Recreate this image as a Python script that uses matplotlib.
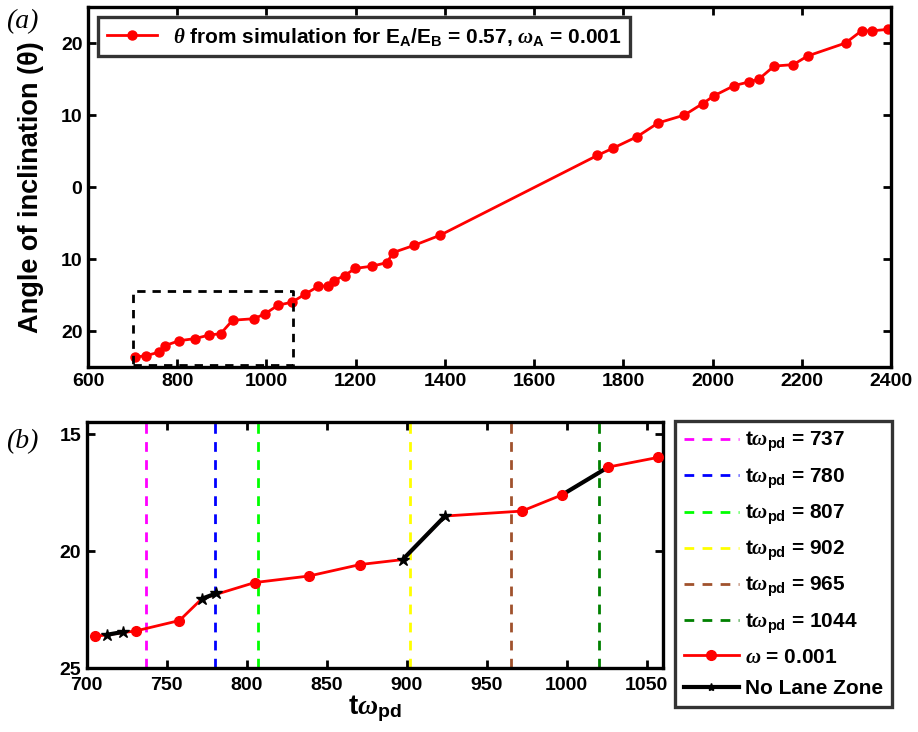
import numpy as np
import matplotlib
matplotlib.use("Agg")
import matplotlib.pyplot as plt
from matplotlib.ticker import FuncFormatter
from matplotlib.lines import Line2D

plt.rcParams['font.family'] = ['Liberation Sans', 'DejaVu Sans']
plt.rcParams['font.weight'] = 'bold'
plt.rcParams['mathtext.fontset'] = 'custom'
plt.rcParams['mathtext.rm'] = 'Liberation Sans:bold'
plt.rcParams['mathtext.bf'] = 'Liberation Sans:bold'
plt.rcParams['mathtext.it'] = 'Liberation Serif:italic'

# angle of inclination vs time
t = [705, 731, 758, 772, 805, 839, 871, 897.5, 924, 972, 997, 1026, 1057,
     1086, 1116, 1139, 1152, 1175, 1199, 1236, 1270, 1284, 1331, 1389,
     1742, 1777, 1831, 1878, 1937, 1978, 2004, 2049, 2082, 2104, 2138, 2181, 2213,
     2298, 2334, 2358, 2394]
theta = [-23.64, -23.4, -22.96, -22.03, -21.34, -21.06, -20.57, -20.36, -18.5,
         -18.29, -17.6, -16.41, -16.0, -14.9, -13.8, -13.7, -13.0, -12.3, -11.3,
         -11.0, -10.5, -9.1, -8.1, -6.7, 4.4, 5.4, 7.0, 8.9, 10.0, 11.6, 12.7,
         14.1, 14.6, 15.0, 16.8, 17.0, 18.2, 20.0, 21.7, 21.7, 21.9]

# no lane zone segments
nlz_t = [[712.5, 722.5], [772, 781], [897.5, 924], [997, 1026]]
nlz_theta = [[-23.57, -23.45], [-22.03, -21.8], [-20.36, -18.5], [-17.6, -16.41]]

# vertical marker lines in panel (b)
vline_x = [737, 780, 807, 902, 965, 1020]
vline_lbl = ['737', '780', '807', '902', '965', '1044']
vline_col = ['#ff00ff', '#0000ff', '#00ff00', '#ffff00', '#a0522d', '#008000']

# zoom box
box_x = [700, 1060]
box_y = [-24.7, -14.5]

absfmt = FuncFormatter(lambda v, p: '%d' % abs(v))


def style(ax):
    for s in ax.spines.values():
        s.set_linewidth(2.4)
    ax.tick_params(direction='in', length=6, width=2, labelsize=14,
                   top=True, right=True, pad=4)


fig = plt.figure(figsize=(9.18, 7.32), dpi=100)

# (a)
ax1 = fig.add_axes([0.0959, 0.4986, 0.8747, 0.4918])
ax1.plot(t, theta, color='red', lw=2, marker='o', ms=6.5,
         label=r'$\theta$ from simulation for E$_{\rm A}$/E$_{\rm B}$ = 0.57, $\omega_{\rm A}$ = 0.001')
ax1.plot([box_x[0], box_x[1], box_x[1], box_x[0], box_x[0]],
         [box_y[0], box_y[0], box_y[1], box_y[1], box_y[0]],
         color='black', lw=2, ls=(0, (3, 2.5)))
ax1.set_xlim(600, 2400)
ax1.set_ylim(-25, 25)
ax1.set_xticks(np.arange(600, 2401, 200))
ax1.set_yticks([-20, -10, 0, 10, 20])
ax1.yaxis.set_major_formatter(absfmt)
ax1.set_ylabel(u'Angle of inclination (\u03b8)', fontsize=19.5, fontweight='bold', labelpad=12)
style(ax1)
leg1 = ax1.legend(loc='upper left', fontsize=15, frameon=True, fancybox=False,
                  edgecolor='black', handlelength=2.4, borderaxespad=0.5,
                  bbox_to_anchor=(0.0, 1.0))
leg1.get_frame().set_linewidth(2.4)

# (b)
ax2 = fig.add_axes([0.0944, 0.0870, 0.6275, 0.3361])
handles = []
for x, lb, c in zip(vline_x, vline_lbl, vline_col):
    h = ax2.axvline(x, color=c, lw=2, ls=(0, (3.5, 3)),
                    label=r't$\omega_{\rm pd}$ = ' + lb)
    handles.append(h)
ax2.plot(t, theta, color='red', lw=2, zorder=2)
for k in range(len(nlz_t)):
    mk = '*' if k < 3 else 'None'
    ax2.plot(nlz_t[k], nlz_theta[k], color='black', lw=3, marker=mk, ms=9,
             zorder=3)
blk = set(v for seg in nlz_t[:3] for v in seg)
rx = [v for v in t if v not in blk]
ry = [y for v, y in zip(t, theta) if v not in blk]
ax2.plot(rx, ry, ls='None', marker='o', color='red', ms=7, zorder=4)
ax2.set_xlim(700, 1060)
ax2.set_ylim(-25, -14.5)
ax2.set_xticks(np.arange(700, 1051, 50))
ax2.set_yticks([-25, -20, -15])
ax2.yaxis.set_major_formatter(absfmt)
ax2.set_xlabel(r't$\omega_{\rm pd}$', fontsize=20, fontweight='bold', labelpad=0)
style(ax2)
ax2.tick_params(axis='x', pad=6)

handles.append(Line2D([], [], color='red', lw=2, marker='o', ms=7))
handles.append(Line2D([], [], color='black', lw=3, marker='*', ms=6))
labels = [h.get_label() for h in handles[:6]] + [r'$\omega$ = 0.001', 'No Lane Zone']
leg2 = fig.legend(handles, labels, loc='upper left', bbox_to_anchor=(0.7353, 0.4253),
                  fontsize=15, frameon=True, fancybox=False, edgecolor='black',
                  handlelength=2.6, labelspacing=0.58, borderaxespad=0,
                  borderpad=0.45, handletextpad=0.3)
leg2.get_frame().set_linewidth(2.4)

fig.text(0.007, 0.962, '(a)', fontsize=20, family='Liberation Serif', style='italic',
         fontweight='normal')
fig.text(0.007, 0.388, '(b)', fontsize=20, family='Liberation Serif', style='italic',
         fontweight='normal')

fig.savefig('out.png', dpi=100)
